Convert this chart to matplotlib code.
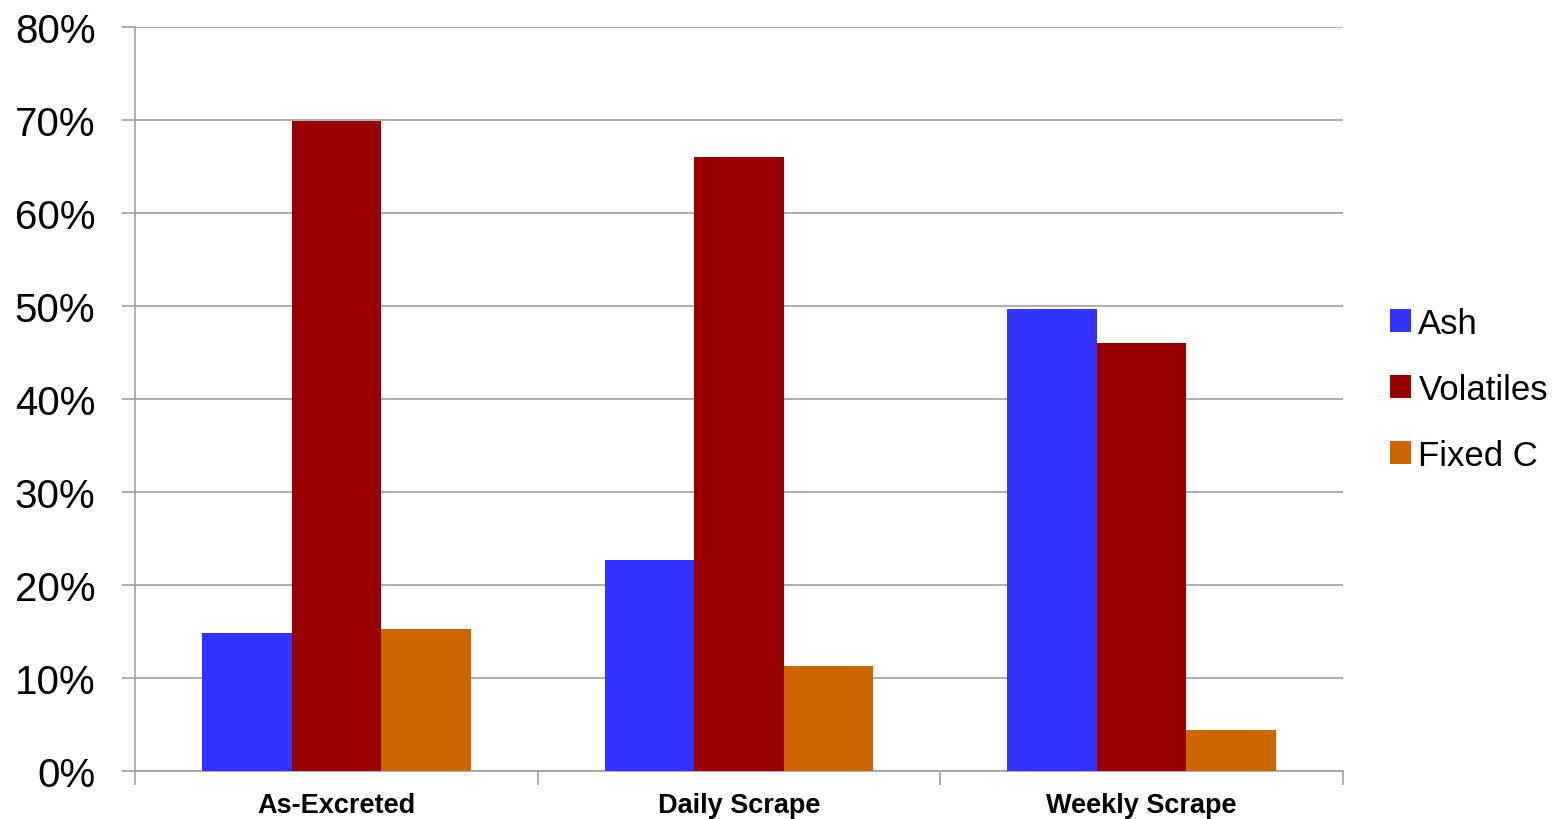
import numpy as np
import matplotlib.pyplot as plt
from matplotlib.ticker import FixedLocator, PercentFormatter

plt.rcParams['font.family'] = ['Liberation Sans', 'DejaVu Sans']

# manure sample composition, share of dry matter
categories = ["As-Excreted", "Daily Scrape", "Weekly Scrape"]
series = ["Ash", "Volatiles", "Fixed C"]
ash = [14.8, 22.7, 49.7]
volatiles = [69.9, 66.0, 46.0]
fixed_c = [15.3, 11.3, 4.4]
colors = ["#3333FF", "#990000", "#CC6600"]

fig = plt.figure(figsize=(15.6, 8.2), dpi=100)
ax = fig.add_axes([0.0865, 0.0585, 0.7744, 0.9074])

x = np.arange(len(categories))
w = 1 / 4.5
for i, (name, vals) in enumerate(zip(series, [ash, volatiles, fixed_c])):
    ax.bar(x + (i - 1) * w, vals, width=w, color=colors[i], label=name, zorder=3)

ax.set_xlim(-0.5, 2.5)
ax.set_ylim(0, 80)
ax.set_yticks(np.arange(0, 81, 10))
ax.yaxis.set_major_formatter(PercentFormatter(decimals=0))
ax.set_xticks(x)
ax.set_xticklabels(categories, fontsize=19.5, fontweight='bold')
ax.xaxis.set_minor_locator(FixedLocator([-0.5, 0.5, 1.5, 2.5]))
ax.tick_params(axis='x', which='major', length=0, pad=15)
ax.tick_params(axis='x', which='minor', length=10, width=1.2, color='#a0a0a0')
ax.tick_params(axis='y', labelsize=29, length=9.5, width=1.2, color='#a0a0a0', pad=19)
ax.grid(axis='y', color='#a0a0a0', linewidth=1.2, zorder=0)

for side in ['top', 'right']:
    ax.spines[side].set_visible(False)
for side in ['left', 'bottom']:
    ax.spines[side].set_color('#a0a0a0')
    ax.spines[side].set_linewidth(1.2)

ax.legend(loc='center left', bbox_to_anchor=(1.013, 0.513), frameon=False,
          fontsize=25, handlelength=0.62, handleheight=0.62, handletextpad=0.2,
          labelspacing=0.95)

fig.savefig("out.png", dpi=100)
